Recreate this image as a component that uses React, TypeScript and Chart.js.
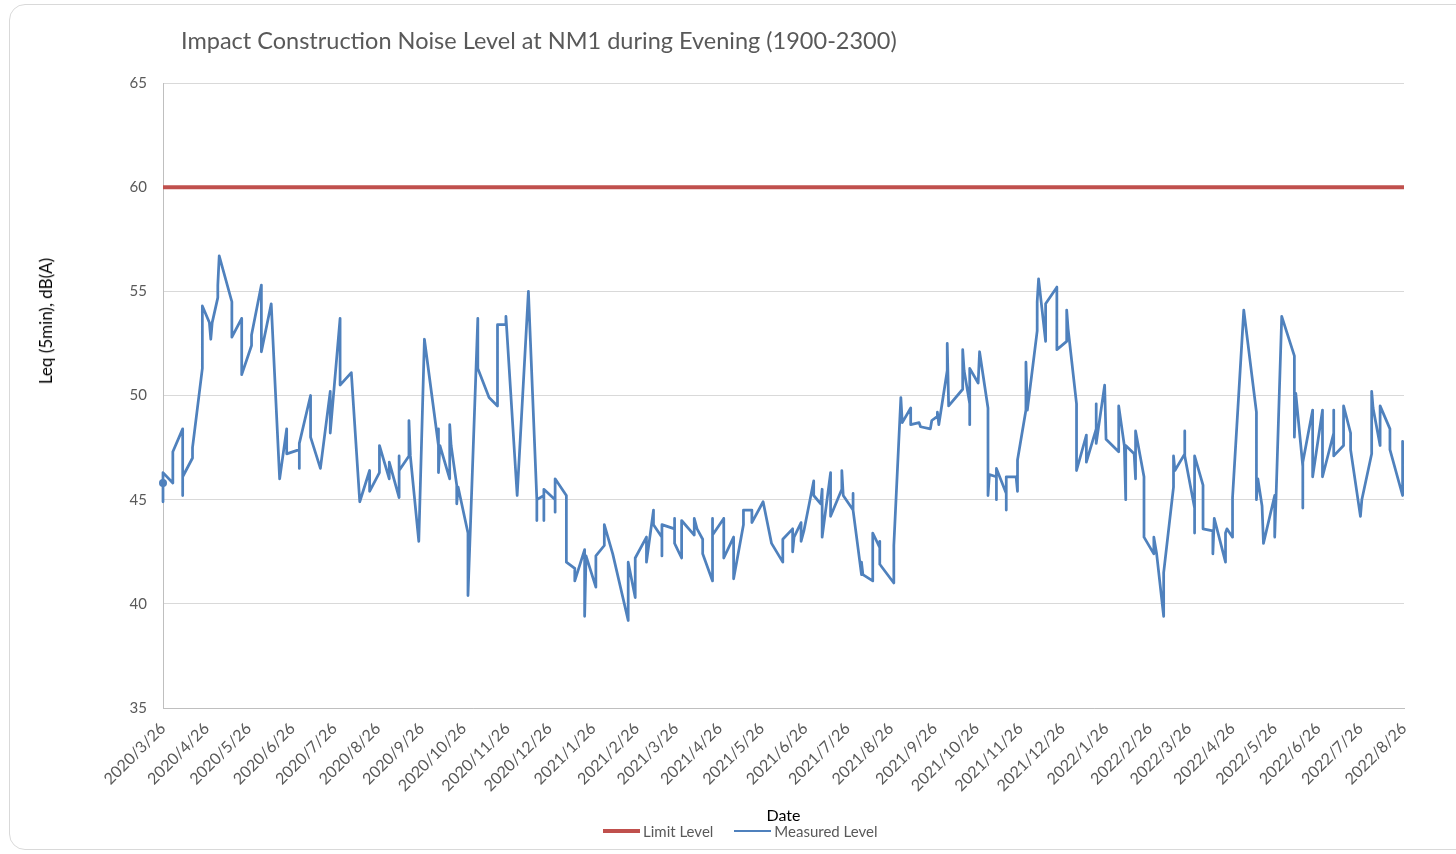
import React, { useEffect, useRef } from "react";
import { Chart, registerables } from "chart.js";

Chart.register(...registerables);

const TITLE = "Impact Construction Noise Level at NM1 during Evening (1900-2300)";
const Y_TITLE = "Leq (5min), dB(A)";
const X_TITLE = "Date";
const START_DATE = "2020/3/26";

const tickLabels = [
  "2020/3/26", "2020/4/26", "2020/5/26", "2020/6/26", "2020/7/26", "2020/8/26",
  "2020/9/26", "2020/10/26", "2020/11/26", "2020/12/26", "2021/1/26", "2021/2/26",
  "2021/3/26", "2021/4/26", "2021/5/26", "2021/6/26", "2021/7/26", "2021/8/26",
  "2021/9/26", "2021/10/26", "2021/11/26", "2021/12/26", "2022/1/26", "2022/2/26",
  "2022/3/26", "2022/4/26", "2022/5/26", "2022/6/26", "2022/7/26", "2022/8/26",
];

const limitLabel = "Limit Level";
const measuredLabel = "Measured Level";
const limitLevel = 60;

// days after 2020/3/26
const days = [
  0, 0, 0, 7, 7, 14, 14, 14, 21, 21, 28, 28, 33, 34, 35, 39, 39, 40, 49, 49,
  56, 56, 63, 63, 70, 70, 77, 83, 88, 88, 97, 97, 97, 105, 105, 112, 119, 119, 126, 126,
  134, 140, 147, 147, 154, 154, 161, 161, 168, 168, 168, 175, 175, 176, 182, 186, 196, 196, 196, 197,
  204, 204, 205, 209, 209, 210, 217, 217, 224, 224, 232, 238, 238, 244, 244, 252, 260, 266, 266, 266,
  271, 271, 271, 279, 279, 279, 287, 287, 293, 293, 300, 300, 301, 308, 308, 314, 314, 320, 331, 331,
  336, 336, 344, 344, 349, 349, 355, 355, 355, 364, 364, 364, 369, 369, 378, 378, 380, 384, 384, 391,
  391, 391, 399, 399, 406, 406, 413, 413, 419, 419, 427, 433, 441, 441, 448, 448, 449, 454, 454, 456,
  463, 463, 468, 469, 469, 475, 475, 483, 483, 484, 491, 491, 491, 497, 497, 498, 505, 505, 510, 510,
  510, 520, 520, 525, 526, 532, 532, 538, 539, 546, 547, 551, 551, 552, 558, 558, 559, 569, 569, 570,
  574, 574, 574, 580, 581, 587, 587, 588, 593, 593, 593, 600, 600, 600, 607, 608, 608, 614, 614, 615,
  622, 622, 623, 628, 628, 636, 636, 643, 643, 644, 650, 650, 657, 657, 664, 664, 664, 670, 671, 680,
  680, 684, 685, 685, 691, 692, 692, 698, 698, 705, 705, 707, 712, 712, 719, 719, 720, 727, 727, 727,
  734, 734, 734, 740, 740, 747, 747, 748, 756, 756, 757, 761, 761, 769, 778, 778, 779, 782, 783, 791,
  791, 792, 796, 805, 805, 806, 811, 811, 811, 818, 818, 825, 825, 833, 833, 833, 840, 840, 845, 845,
  852, 853, 860, 860, 861, 866, 866, 873, 873, 882, 882,
];

const levels = [
  45.8, 44.9, 46.3, 45.8, 47.3, 48.4, 45.2, 46.1, 47.0, 47.5, 51.3, 54.3, 53.5, 52.7, 53.5, 54.7, 55.3, 56.7, 54.5, 52.8,
  53.7, 51.0, 52.4, 52.9, 55.3, 52.1, 54.4, 46.0, 48.4, 47.2, 47.4, 46.5, 47.7, 50.0, 48.0, 46.5, 50.2, 48.2, 53.7, 50.5,
  51.1, 44.9, 46.4, 45.4, 46.3, 47.6, 46.0, 46.8, 45.1, 47.1, 46.4, 47.1, 48.8, 47.1, 43.0, 52.7, 47.6, 48.4, 46.3, 47.6,
  46.0, 48.6, 47.6, 45.7, 44.8, 45.6, 43.4, 40.4, 53.7, 51.3, 49.9, 49.5, 53.4, 53.4, 53.8, 45.2, 55.0, 45.0, 44.0, 45.0,
  45.2, 44.0, 45.5, 45.0, 44.4, 46.0, 45.2, 42.0, 41.7, 41.1, 42.6, 39.4, 42.3, 40.8, 42.3, 42.8, 43.8, 42.4, 39.2, 42.0,
  40.3, 42.2, 43.2, 42.0, 44.5, 43.8, 43.2, 42.3, 43.8, 43.6, 44.1, 42.9, 42.2, 44.0, 43.3, 44.1, 43.6, 43.1, 42.4, 41.1,
  44.1, 43.3, 44.1, 42.2, 43.2, 41.2, 43.8, 44.5, 44.5, 43.9, 44.9, 42.9, 42.0, 43.1, 43.6, 42.5, 43.2, 43.9, 43.0, 43.5,
  45.9, 45.2, 44.8, 45.5, 43.2, 46.3, 44.2, 45.5, 46.4, 45.2, 44.5, 45.3, 44.5, 41.4, 42.0, 41.4, 41.1, 43.4, 42.7, 43.0,
  41.9, 41.0, 42.8, 49.9, 48.7, 49.4, 48.6, 48.7, 48.5, 48.4, 48.8, 49.0, 49.2, 48.6, 51.2, 52.5, 49.5, 50.3, 52.2, 51.2,
  49.6, 48.6, 51.3, 50.6, 52.1, 49.4, 45.2, 46.2, 46.1, 45.0, 46.5, 45.3, 44.5, 46.1, 46.1, 45.4, 46.9, 49.3, 51.6, 49.3,
  53.1, 54.5, 55.6, 52.6, 54.4, 55.2, 52.2, 52.6, 54.1, 53.2, 49.6, 46.4, 48.1, 46.8, 48.4, 49.6, 47.7, 50.5, 47.9, 47.3,
  49.5, 47.6, 45.0, 47.6, 47.2, 46.0, 48.3, 46.1, 43.2, 42.4, 43.2, 42.4, 39.4, 41.5, 45.6, 47.1, 46.4, 47.2, 48.3, 47.1,
  44.6, 43.4, 47.1, 45.7, 43.6, 43.5, 42.4, 44.1, 42.0, 43.4, 43.6, 43.2, 45.1, 54.1, 49.2, 45.0, 46.0, 44.7, 42.9, 45.2,
  43.2, 45.2, 53.8, 51.9, 48.0, 50.1, 46.6, 44.6, 46.8, 49.3, 46.1, 49.3, 46.1, 48.2, 49.3, 47.1, 47.6, 49.5, 48.2, 47.4,
  44.2, 45.0, 47.2, 50.2, 49.4, 47.6, 49.5, 48.4, 47.4, 45.2, 47.8,
];

const RED = "#C0504D";
const BLUE = "#4F81BD";
const FONT = "Lato, 'Open Sans', sans-serif";

function dayOffset(label: string): number {
  const [y, m, d] = label.split("/").map(Number);
  const [y0, m0, d0] = START_DATE.split("/").map(Number);
  return Math.round((Date.UTC(y, m - 1, d) - Date.UTC(y0, m0 - 1, d0)) / 86400000);
}

const tickDays = tickLabels.map(dayOffset);

export default function App() {
  const canvasRef = useRef<HTMLCanvasElement | null>(null);

  useEffect(() => {
    const canvas = canvasRef.current;
    if (!canvas) return;
    const labelByDay = new Map<number, string>();
    tickDays.forEach((d, i) => labelByDay.set(d, tickLabels[i]));
    const lastDay = tickDays[tickDays.length - 1];

    const chart = new Chart(canvas, {
      type: "line",
      data: {
        datasets: [
          {
            label: limitLabel,
            data: [
              { x: 0, y: limitLevel },
              { x: lastDay, y: limitLevel },
            ],
            borderColor: RED,
            backgroundColor: RED,
            borderWidth: 4,
            pointRadius: 0,
            tension: 0,
          },
          {
            label: measuredLabel,
            data: days.map((d, i) => ({ x: d, y: levels[i] })),
            borderColor: BLUE,
            backgroundColor: BLUE,
            borderWidth: 2.75,
            borderJoinStyle: "round",
            borderCapStyle: "round",
            pointRadius: (ctx: any) => (ctx.dataIndex === 0 ? 4 : 0),
            pointBackgroundColor: BLUE,
            pointBorderWidth: 0,
            tension: 0,
            clip: false as any,
          },
        ],
      },
      options: {
        responsive: false,
        animation: false,
        layout: { padding: { left: 10, right: 52, top: 83, bottom: 28.4 } },
        plugins: {
          legend: { display: false },
          title: { display: false },
          tooltip: { enabled: false },
        },
        scales: {
          x: {
            type: "linear",
            min: 0,
            max: lastDay,
            grid: { display: false, drawTicks: false },
            border: { display: true, color: "#bfbfbf", width: 1 },
            afterBuildTicks: (scale: any) => {
              scale.ticks = tickDays.map((v) => ({ value: v }));
            },
            afterFit: (scale: any) => {
              scale.height = 117.6;
            },
            ticks: {
              autoSkip: false,
              minRotation: 45,
              maxRotation: 45,
              padding: 11,
              color: "#595959",
              font: { family: FONT, size: 16 },
              callback: (value: any) => labelByDay.get(Number(value)) ?? "",
            },
            title: {
              display: true,
              text: X_TITLE,
              color: "#000000",
              font: { family: FONT, size: 16 },
              padding: { top: 0, bottom: 0 },
            },
          },
          y: {
            min: 35,
            max: 65,
            grid: { color: "#d9d9d9", lineWidth: 1, drawTicks: false },
            border: { display: true, color: "#bfbfbf", width: 1 },
            afterFit: (scale: any) => {
              scale.width = 153;
            },
            ticks: {
              stepSize: 5,
              padding: 16,
              color: "#595959",
              font: { family: FONT, size: 15 },
            },
            title: { display: false },
          },
        },
      },
    });
    return () => chart.destroy();
  }, []);

  const legendItems = [
    { label: limitLabel, color: RED, width: 4 },
    { label: measuredLabel, color: BLUE, width: 2.75 },
  ];

  return (
    <div>
      <div
        style={{
          position: "fixed",
          left: 9,
          top: 4,
          width: 1480,
          height: 846,
          border: "1px solid #d9d9d9",
          borderRadius: 16,
          boxSizing: "border-box",
          background: "#ffffff",
        }}
      />
      <canvas
        ref={canvasRef}
        width={1456}
        height={854}
        style={{ position: "fixed", left: 0, top: 0, width: 1456, height: 854 }}
      />
      <div
        style={{
          position: "fixed",
          left: 181,
          top: 27,
          fontFamily: FONT,
          fontSize: 23.5,
          lineHeight: "26px",
          color: "#595959",
          whiteSpace: "nowrap",
        }}
      >
        {TITLE}
      </div>
      <div
        style={{
          position: "fixed",
          left: 45.5,
          top: 321,
          transform: "translate(-50%, -50%) rotate(-90deg)",
          fontFamily: FONT,
          fontSize: 17,
          lineHeight: "20px",
          color: "#000000",
          whiteSpace: "nowrap",
        }}
      >
        {Y_TITLE}
      </div>
      <div
        style={{
          position: "fixed",
          left: 603,
          top: 822,
          height: 18,
          display: "flex",
          alignItems: "center",
          fontFamily: FONT,
          fontSize: 15,
          color: "#595959",
          whiteSpace: "nowrap",
        }}
      >
        {legendItems.map((it, i) => (
          <div key={it.label} style={{ display: "flex", alignItems: "center", marginRight: i === 0 ? 21 : 0 }}>
            <div style={{ width: 37, height: it.width, background: it.color }} />
            <span style={{ marginLeft: 3 }}>{it.label}</span>
          </div>
        ))}
      </div>
    </div>
  );
}
